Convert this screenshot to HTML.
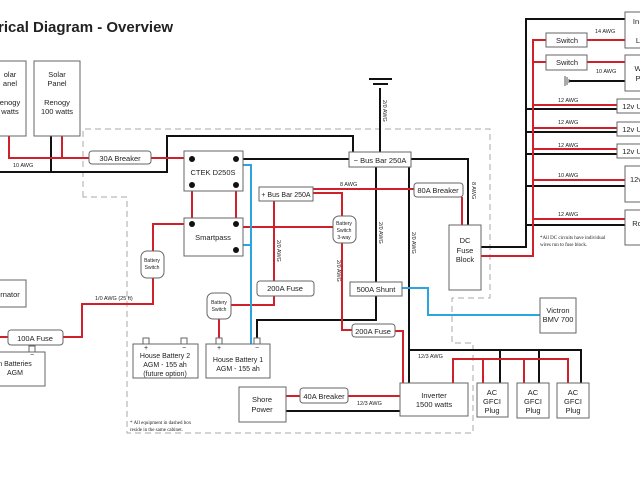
<!DOCTYPE html>
<html><head><meta charset="utf-8"><style>body{margin:0;background:#fff}svg{display:block}text{font-family:"Liberation Sans",sans-serif;fill:#222}</style></head><body>
<svg width="640" height="480" viewBox="0 0 640 480" xmlns="http://www.w3.org/2000/svg">
<text x="-2" y="32" font-size="15" font-weight="bold" fill="#111">rical Diagram - Overview</text>
<!-- dashed cabinet -->
<path d="M83 197 V129 H490 V298 H452 V343 H473 V433 H127 V197 Z" fill="none" stroke="#aaa" stroke-width="1" stroke-dasharray="6,4"/>
<g fill="none" stroke-width="2">
<!-- black wires -->
<g stroke="#111">
<path d="M0 172 H167 V136 H353 V153"/>
<path d="M51 136 V172"/>
<path d="M243 159 H349"/>
<path d="M411 159 H468 V225"/>
<path d="M380 88 V152"/>
<path d="M481 247 H526 V19 H625"/>
<path d="M526 109 H617 M526 132 H617 M526 154 H617 M526 186 H625 M526 225 H625"/>
<path d="M569 81 H625"/>
<path d="M376 167 V282 M376 296 V320 H257 V338"/>
<path d="M409 167 V383"/>
<path d="M409 350 H581 V383 M500 350 V383 M539 350 V383"/>
<path d="M286 411 H400"/>
</g>
<!-- red wires -->
<g stroke="#d0202a">
<path d="M9 136 V158 H89 M62 136 V158 M151 158 H184"/>
<path d="M192 185 V224 M236 185 V224"/>
<path d="M184 224 H153 V251 M153 278 V304 H82 V337 H63 M8 337 H0"/>
<path d="M243 227 H333"/>
<path d="M313 193 H342 V216 M342 243 V330 H352 M395 331 H403 V383"/>
<path d="M313 189 H414 M462 197 V225"/>
<path d="M274 201 V281 M274 296 V305 H231 M219 319 V338"/>
<path d="M481 256 H533 V40 H546 M587 40 H625 M533 62 H546 M587 62 H625"/>
<path d="M533 105 H617 M533 128 H617 M533 149 H617 M533 180 H625 M533 219 H625"/>
<path d="M286 396 H300 M348 396 H400"/>
<path d="M453 383 V359 H568 V383 M483 359 V383 M524 359 V383"/>
</g>
<!-- blue -->
<g stroke="#2aa5e0">
<path d="M243 165 H251 V344 M243 245 H251"/>
<path d="M402 288 H428 V315 H540"/>
</g>
</g>
<!-- ground symbols -->
<g stroke="#111" stroke-width="2"><path d="M369 79 H392 M373 84 H388"/></g>
<g stroke="#555" stroke-width="1"><path d="M565 76 V86 M567 77 V85 M569 79 V83"/></g>
<!-- boxes -->
<g fill="#fff" stroke="#666" stroke-width="1">
<rect x="-5" y="61" width="31" height="75"/><rect x="34" y="61" width="46" height="75"/>
<rect x="89" y="151" width="62" height="13" rx="3"/>
<rect x="184" y="151" width="59" height="40"/><rect x="184" y="218" width="59" height="38"/>
<rect x="349" y="152" width="62" height="15"/>
<rect x="259" y="187" width="54" height="14"/>
<rect x="414" y="183" width="49" height="14" rx="3"/>
<rect x="449" y="225" width="32" height="65"/>
<rect x="141" y="251" width="23" height="27" rx="6"/>
<rect x="333" y="216" width="23" height="27" rx="6"/>
<rect x="207" y="293" width="24" height="26" rx="6"/>
<rect x="257" y="281" width="57" height="15" rx="3"/>
<rect x="350" y="282" width="52" height="14"/>
<rect x="352" y="324" width="43" height="13" rx="3"/>
<rect x="-5" y="280" width="31" height="27"/>
<rect x="8" y="330" width="55" height="15" rx="3"/>
<rect x="-5" y="352" width="50" height="34"/>
<rect x="133" y="344" width="65" height="34"/><rect x="206" y="344" width="64" height="34"/>
<rect x="143" y="338" width="6" height="6"/><rect x="181" y="338" width="6" height="6"/>
<rect x="216" y="338" width="6" height="6"/><rect x="254" y="338" width="6" height="6"/>
<rect x="29" y="346" width="6" height="6"/>
<rect x="540" y="298" width="36" height="35"/>
<rect x="239" y="387" width="47" height="35"/>
<rect x="300" y="388" width="48" height="15" rx="3"/>
<rect x="400" y="383" width="68" height="33"/>
<rect x="477" y="383" width="31" height="34"/><rect x="517" y="383" width="32" height="35"/><rect x="557" y="383" width="32" height="35"/>
<rect x="625" y="12" width="20" height="36"/><rect x="546" y="33" width="41" height="14"/>
<rect x="546" y="55" width="41" height="15"/><rect x="625" y="55" width="20" height="36"/>
<rect x="617" y="99" width="28" height="14"/><rect x="617" y="122" width="28" height="14"/><rect x="617" y="144" width="28" height="14"/>
<rect x="625" y="166" width="20" height="36"/><rect x="625" y="210" width="20" height="35"/>
</g>
<g fill="#111"><circle cx="192" cy="159" r="3"/><circle cx="236" cy="159" r="3"/><circle cx="192" cy="185" r="3"/><circle cx="236" cy="185" r="3"/><circle cx="192" cy="224" r="3"/><circle cx="236" cy="224" r="3"/><circle cx="236" cy="250" r="3"/></g>
<!-- labels -->
<g font-size="7.5" text-anchor="middle">
<text x="10" y="77">olar</text><text x="10" y="86">anel</text><text x="10" y="105">enogy</text><text x="10" y="114">watts</text>
<text x="57" y="77">Solar</text><text x="57" y="86">Panel</text><text x="57" y="105">Renogy</text><text x="57" y="114">100 watts</text>
<text x="120" y="161">30A Breaker</text>
<text x="213" y="175">CTEK D250S</text><text x="213" y="240">Smartpass</text>
<text x="380" y="163">− Bus Bar 250A</text>
<text x="286" y="197" font-size="7">+ Bus Bar 250A</text>
<text x="438" y="193">80A Breaker</text>
<text x="465" y="243">DC</text><text x="465" y="253">Fuse</text><text x="465" y="262">Block</text>
<text x="285" y="291">200A Fuse</text><text x="376" y="292">500A Shunt</text><text x="373" y="334">200A Fuse</text>
<text x="10" y="297">rnator</text><text x="35" y="341">100A Fuse</text>
<text x="15" y="366" font-size="7">n Batteries</text><text x="15" y="375" font-size="7">AGM</text>
<text x="165" y="358" font-size="7">House Battery 2</text><text x="165" y="367" font-size="7">AGM - 155 ah</text><text x="165" y="376" font-size="7">(future option)</text>
<text x="238" y="362" font-size="7">House Battery 1</text><text x="238" y="371" font-size="7">AGM - 155 ah</text>
<text x="558" y="313">Victron</text><text x="558" y="322">BMV 700</text>
<text x="262" y="402">Shore</text><text x="262" y="412">Power</text>
<text x="324" y="399">40A Breaker</text>
<text x="434" y="398">Inverter</text><text x="434" y="407">1500 watts</text>
<text x="492" y="395">AC</text><text x="492" y="404">GFCI</text><text x="492" y="413">Plug</text>
<text x="533" y="395">AC</text><text x="533" y="404">GFCI</text><text x="533" y="413">Plug</text>
<text x="573" y="395">AC</text><text x="573" y="404">GFCI</text><text x="573" y="413">Plug</text>
<text x="567" y="43">Switch</text><text x="567" y="65">Switch</text>
<text x="636" y="24">In</text><text x="638" y="43">L</text><text x="638" y="71">W</text><text x="638" y="81">P</text>
<text x="632" y="109">12v U</text><text x="632" y="132">12v U</text><text x="632" y="154">12v U</text>
<text x="636" y="182">12v</text><text x="637" y="226">Ro</text>
</g>
<g font-size="5" text-anchor="middle">
<text x="152" y="262">Battery</text><text x="152" y="269">Switch</text>
<text x="219" y="304">Battery</text><text x="219" y="311">Switch</text>
<text x="344" y="225">Battery</text><text x="344" y="232">Switch</text><text x="344" y="239">3-way</text>
<text x="146" y="350" font-size="7">+</text><text x="184" y="350" font-size="7">−</text>
<text x="219" y="350" font-size="7">+</text><text x="257" y="350" font-size="7">−</text>
<text x="32" y="357" font-size="7">−</text>
</g>
<g font-size="5.5">
<text x="13" y="167">10 AWG</text><text x="95" y="300">1/0 AWG (25 ft)</text>
<text x="340" y="186">8 AWG</text>
<text x="595" y="33">14 AWG</text><text x="596" y="73">10 AWG</text>
<text x="558" y="102">12 AWG</text><text x="558" y="124">12 AWG</text><text x="558" y="147">12 AWG</text><text x="558" y="177">10 AWG</text><text x="558" y="216">12 AWG</text>
<text x="418" y="358">12/3 AWG</text><text x="357" y="405">12/3 AWG</text>
<g transform="translate(383,100) rotate(90)"><text>2/0 AWG</text></g>
<g transform="translate(472,182) rotate(90)"><text>8 AWG</text></g>
<g transform="translate(277,240) rotate(90)"><text>2/0 AWG</text></g>
<g transform="translate(337,260) rotate(90)"><text>2/0 AWG</text></g>
<g transform="translate(379,222) rotate(90)"><text>2/0 AWG</text></g>
<g transform="translate(412,232) rotate(90)"><text>2/0 AWG</text></g>
</g>
<g font-family="Liberation Serif" font-size="5">
<text x="130" y="424" style="font-family:'Liberation Serif',serif">* All equipment in dashed box</text>
<text x="130" y="431" style="font-family:'Liberation Serif',serif">reside in the same cabinet.</text>
<text x="540" y="239" style="font-family:'Liberation Serif',serif">*All DC circuits have individual</text>
<text x="540" y="246" style="font-family:'Liberation Serif',serif">wires run to fuse block.</text>
</g>
</svg>
</body></html>
